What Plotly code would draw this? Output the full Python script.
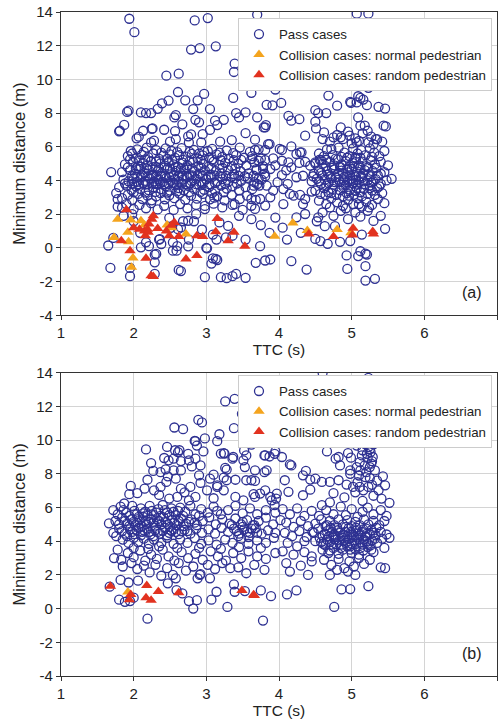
import plotly.graph_objects as go
from plotly.subplots import make_subplots

# ---------------- DATA ----------------
# Panel (a): pass cases (TTC [s], minimum distance [m])
pass_a = [
 (1.94,13.6),(2.01,12.8),(2.84,13.5),(3.02,13.64),(2.79,11.77),(2.91,11.86),(3.13,11.96),(2.45,10.22),(2.62,10.34),
 (2.61,9.25),(2.97,9.14),(2.88,8.76),(2.71,8.76),(2.48,8.74),(2.39,8.58),(2.33,8.25),(3.39,10.93),(3.38,10.44),
 (3.52,10.0),(3.60,10.85),(3.70,13.84),(3.62,13.0),(3.65,10.78),(3.62,9.2),(3.37,8.9),(3.95,9.4),(4.03,8.6),
 (3.91,8.46),(4.61,9.69),(4.68,9.04),(5.07,13.9),(5.23,13.9),(5.13,10.28),(5.39,10.22),(4.99,8.6),(5.09,9.0),
 (5.12,8.9),(5.16,8.8),(5.23,9.5),(4.80,8.44),(5.37,8.37),(5.46,8.27),(3.83,8.49),(3.54,8.04),(3.41,8.0),
 (3.05,8.24),(2.82,8.24),(1.93,8.14),(1.91,8.07),(2.10,8.04),(2.17,8.0),(2.24,8.0),(4.50,8.17),(4.54,8.0),
 (4.65,8.0),(5.07,8.63),(5.21,8.47),(4.98,8.67),
 (1.87,7.3),(1.81,6.95),(2.13,6.95),(2.26,7.09),(2.42,7.01),(2.57,6.93),(2.79,6.74),(2.75,6.62),(2.58,7.88),
 (2.56,7.74),(2.67,7.33),(2.85,7.6),(2.90,7.45),(3.12,7.55),(3.24,7.6),(3.15,7.29),(3.45,7.74),(3.70,7.74),
 (3.81,7.15),(3.54,6.81),(3.35,6.4),(3.67,6.42),(3.19,6.3),(2.76,6.26),(2.93,6.26),(2.04,6.5),(2.07,6.6),
 (2.24,6.26),(2.28,6.36),(2.50,6.3),(2.58,6.46),(1.80,6.92),(2.25,7.06),(4.13,7.84),(4.17,7.55),(4.28,7.64),
 (3.79,7.15),(3.82,7.29),(4.50,7.49),(4.51,7.09),(4.85,7.15),(5.09,7.74),(5.12,7.25),(5.18,7.25),(5.44,7.25),
 (5.47,7.21),(4.36,6.66),(4.60,6.46),(4.75,6.56),(4.85,6.56),(4.97,6.66),(5.07,6.26),(5.23,6.26),(5.33,6.46),
 (3.85,6.16),(4.01,5.87),(4.17,6.02),(4.31,5.67),(4.24,5.57),(4.72,5.87),(2.95,6.75),(3.05,7.0),
 (2.05,5.85),(2.18,5.95),(2.31,5.8),(2.44,5.9),(2.52,5.75),(2.66,5.92),(2.83,5.82),(2.97,5.7),(3.08,5.88),
 (3.28,5.78),(3.46,5.95),(3.60,5.7),(3.72,5.85),(1.98,5.6),
 (1.92,5.45),(2.03,5.3),(2.11,5.52),(2.20,5.38),(2.27,5.6),(2.35,5.28),(2.41,5.47),(2.50,5.55),(2.57,5.34),
 (2.63,5.5),(2.72,5.41),(2.80,5.58),(2.88,5.3),(2.95,5.49),(3.04,5.36),(3.14,5.55),(3.22,5.4),(3.31,5.3),
 (3.41,5.5),(3.52,5.35),(3.63,5.45),(3.75,5.3),
 (1.88,4.95),(1.99,5.1),(2.06,4.85),(2.13,5.05),(2.19,4.9),(2.24,5.15),(2.30,4.82),(2.37,5.02),(2.43,4.88),
 (2.48,5.12),(2.55,4.95),(2.61,4.8),(2.67,5.06),(2.74,4.9),(2.82,5.1),(2.89,4.85),(2.96,5.0),(3.03,4.82),
 (3.10,5.12),(3.18,4.92),(3.26,5.05),(3.35,4.85),(3.44,5.0),(3.55,4.9),(3.66,5.08),(3.78,4.85),
 (1.84,4.5),(1.95,4.62),(2.02,4.4),(2.08,4.68),(2.15,4.45),(2.21,4.6),(2.27,4.35),(2.33,4.55),(2.39,4.42),
 (2.46,4.66),(2.52,4.38),(2.58,4.57),(2.64,4.45),(2.70,4.65),(2.77,4.32),(2.84,4.52),(2.91,4.4),(2.98,4.6),
 (3.06,4.35),(3.13,4.55),(3.21,4.42),(3.30,4.62),(3.38,4.38),(3.47,4.55),(3.58,4.42),(3.69,4.6),(3.80,4.4),
 (1.86,4.05),(1.93,3.95),(2.00,4.1),(2.05,3.92),(2.10,4.18),(2.16,3.98),(2.22,4.12),(2.28,3.94),(2.34,4.08),
 (2.40,3.9),(2.45,4.15),(2.51,3.98),(2.57,4.1),(2.62,3.92),(2.68,4.05),(2.74,4.2),(2.80,3.96),(2.86,4.1),
 (2.93,3.92),(3.00,4.06),(3.07,4.18),(3.15,3.95),(3.22,4.08),(3.30,3.92),(3.39,4.12),(3.48,3.98),(3.57,4.15),
 (3.66,3.9),(3.76,4.05),
 (1.80,3.6),(1.90,3.7),(1.97,3.45),(2.03,3.65),(2.09,3.5),(2.15,3.75),(2.21,3.42),(2.27,3.6),(2.33,3.78),
 (2.38,3.48),(2.44,3.65),(2.50,3.4),(2.56,3.72),(2.62,3.55),(2.69,3.42),(2.75,3.68),(2.83,3.5),(2.90,3.75),
 (2.97,3.45),(3.04,3.62),(3.12,3.4),(3.20,3.7),(3.28,3.52),(3.36,3.65),(3.45,3.42),(3.54,3.6),(3.63,3.48),
 (3.73,3.7),
 (1.76,3.25),(1.84,2.95),(1.92,3.15),(1.98,2.85),(2.06,3.2),(2.12,2.9),(2.19,3.1),(2.25,2.82),(2.31,3.05),
 (2.37,3.25),(2.43,2.88),(2.49,3.12),(2.56,2.95),(2.63,3.22),(2.71,2.85),(2.79,3.1),(2.87,2.92),(2.95,3.2),
 (3.05,2.88),(3.15,3.05),(3.25,2.82),(3.35,3.15),(3.46,2.9),(3.56,3.1),(3.68,2.85),
 (1.78,2.45),(1.90,2.6),(2.00,2.3),(2.08,2.55),(2.17,2.35),(2.24,2.65),(2.33,2.28),(2.42,2.5),(2.55,2.25),
 (2.64,2.6),(2.74,2.35),(2.86,2.55),(2.98,2.3),(3.10,2.62),(3.22,2.4),(3.36,2.55),(3.50,2.25),(3.62,2.5),
 (1.96,5.75),(2.14,5.7),(2.38,5.65),(2.60,5.68),(2.77,5.7),(2.90,5.6),(3.02,5.75),(3.18,5.65),(3.37,5.62),
 (1.95,5.25),(2.08,5.18),(2.16,5.25),(2.31,5.12),(2.46,5.28),(2.53,5.2),(2.68,5.22),(2.77,5.15),(2.92,5.22),
 (3.08,5.25),(3.20,5.2),(3.38,5.2),(3.48,5.22),
 (1.92,4.78),(2.03,4.72),(2.10,4.82),(2.18,4.72),(2.26,4.78),(2.35,4.72),(2.42,4.76),(2.50,4.72),(2.58,4.78),
 (2.65,4.72),(2.73,4.78),(2.80,4.72),(2.93,4.76),(3.07,4.72),(3.22,4.75),(3.40,4.72),
 (1.98,4.25),(2.05,4.22),(2.12,4.3),(2.19,4.25),(2.25,4.28),(2.31,4.22),(2.37,4.28),(2.43,4.25),(2.49,4.22),
 (2.55,4.3),(2.61,4.25),(2.67,4.28),(2.73,4.22),(2.81,4.3),(2.88,4.25),(2.95,4.28),(3.03,4.22),(3.11,4.3),
 (3.19,4.25),(3.27,4.28),(3.35,4.22),(3.44,4.28),(3.53,4.25),
 (1.88,3.82),(1.98,3.8),(2.07,3.78),(2.13,3.85),(2.19,3.78),(2.25,3.82),(2.31,3.78),(2.37,3.85),(2.42,3.78),
 (2.48,3.82),(2.54,3.85),(2.59,3.78),(2.66,3.82),(2.72,3.78),(2.78,3.85),(2.86,3.78),(2.95,3.82),(3.04,3.78),
 (3.12,3.85),(3.26,3.8),(3.42,3.82),
 (2.00,3.3),(2.16,3.28),(2.30,3.32),(2.46,3.28),(2.60,3.35),(2.76,3.3),(2.92,3.32),(3.08,3.25),(3.24,3.3),
 (3.67,5.81),(3.81,5.81),(3.87,6.16),(4.04,5.81),(4.29,5.67),(3.62,5.27),(3.72,5.17),(3.81,5.21),(3.92,5.31),
 (4.04,5.17),(4.13,5.08),(4.17,4.78),(4.28,5.04),(4.36,5.11),(4.43,4.88),(4.50,5.08),(4.56,5.23),(4.65,5.23),
 (3.69,4.68),(3.78,4.68),(3.88,4.68),(3.65,4.28),(3.72,4.09),(3.81,4.25),(4.04,4.32),(4.24,4.19),(4.33,4.28),
 (4.47,4.25),(3.65,3.69),(3.70,3.79),(3.83,3.69),(3.92,3.40),(4.06,3.49),(4.20,3.1),(4.15,3.2),(4.29,3.14),
 (4.36,2.9),(4.33,2.6),(4.45,3.34),(3.62,2.9),(3.74,2.9),(3.81,2.51),(3.88,3.0),(3.67,2.31),(4.06,2.6),
 (4.24,1.81),(4.36,2.01),(4.54,1.81),(3.95,4.9),(4.10,4.6),(3.98,3.9),(4.12,3.8),
 (4.62,6.85),(4.80,6.7),(4.95,6.9),(5.05,6.5),(5.15,6.8),(5.27,6.6),(5.35,6.45),(5.22,6.95),(4.70,6.3),
 (4.88,6.45),(5.00,6.2),(5.10,6.35),(5.30,6.15),(5.42,6.3),
 (4.55,5.6),(4.66,5.85),(4.74,5.5),(4.82,5.95),(4.90,5.65),(4.97,5.45),(5.02,5.9),(5.08,5.6),(5.13,5.8),
 (5.19,5.5),(5.25,5.9),(5.31,5.65),(5.38,5.45),(5.45,5.75),(4.86,5.4),(5.05,5.35),
 (4.50,5.0),(4.58,5.2),(4.64,4.85),(4.70,5.1),(4.76,4.9),(4.81,5.25),(4.86,4.95),(4.92,5.15),(4.97,4.82),
 (5.01,5.05),(5.06,5.28),(5.10,4.9),(5.15,5.12),(5.20,4.85),(5.26,5.2),(5.32,4.95),(5.40,5.1),(5.50,4.9),
 (4.48,4.4),(4.55,4.6),(4.60,4.3),(4.66,4.55),(4.71,4.25),(4.76,4.65),(4.81,4.4),(4.86,4.58),(4.90,4.22),
 (4.95,4.48),(5.00,4.68),(5.04,4.3),(5.08,4.52),(5.13,4.25),(5.18,4.62),(5.23,4.38),(5.29,4.55),(5.36,4.3),
 (5.45,4.5),
 (4.45,3.95),(4.52,4.1),(4.58,3.8),(4.63,4.05),(4.68,3.85),(4.72,4.12),(4.77,3.9),(4.82,4.05),(4.86,3.75),
 (4.90,4.0),(4.94,3.88),(4.98,4.1),(5.02,3.82),(5.06,4.02),(5.10,3.92),(5.14,4.15),(5.18,3.78),(5.22,4.0),
 (5.27,3.88),(5.33,4.08),(5.40,3.8),(5.48,4.0),(5.55,4.1),
 (4.50,3.4),(4.57,3.2),(4.62,3.55),(4.68,3.3),(4.74,3.5),(4.79,3.15),(4.84,3.42),(4.89,3.6),(4.93,3.25),
 (4.98,3.45),(5.03,3.15),(5.07,3.55),(5.12,3.3),(5.17,3.5),(5.22,3.2),(5.28,3.4),(5.35,3.55),(5.42,3.25),
 (4.55,2.8),(4.65,2.6),(4.72,2.95),(4.80,2.7),(4.88,2.5),(4.95,2.85),(5.02,2.6),(5.08,2.95),(5.14,2.45),
 (5.20,2.75),(5.28,2.55),(5.36,2.9),(5.45,2.65),
 (4.60,2.1),(4.75,1.9),(4.85,2.2),(4.95,1.7),(5.05,2.1),(5.12,1.85),(5.22,2.2),(5.30,1.6),(4.52,1.58),
 (4.77,1.29),(4.63,1.29),(5.40,1.9),
 (4.62,5.45),(4.78,5.3),(4.94,5.35),(5.12,5.35),(5.28,5.4),
 (4.60,4.98),(4.73,4.75),(4.84,4.8),(4.94,4.7),(5.03,4.85),(5.12,4.75),(5.22,4.78),(5.34,4.75),
 (4.58,4.45),(4.68,4.38),(4.78,4.2),(4.88,4.4),(4.98,4.3),(5.06,4.2),(5.16,4.4),(5.26,4.25),(5.40,4.4),
 (4.55,3.95),(4.65,3.7),(4.75,3.75),(4.84,3.9),(4.92,3.72),(5.00,3.98),(5.08,3.75),(5.16,3.95),(5.25,3.7),
 (5.30,3.95),(5.38,3.65),
 (4.64,3.15),(4.72,3.25),(4.88,3.05),(4.96,3.1),(5.05,3.38),(5.14,3.05),(5.25,3.55),(5.32,3.15),
 (4.70,2.4),(4.92,2.35),(5.10,2.6),(5.24,2.4),
 (1.69,4.5),(1.78,2.89),(1.84,2.39),(1.68,-1.19),(1.65,0.14),(1.72,0.59),(1.95,-1.68),(1.95,-1.19),
 (2.17,0.33),(2.10,0.03),(2.36,0.52),(2.38,0.23),(2.31,-0.36),(2.29,-0.86),(2.62,-1.31),(2.54,-0.17),
 (2.59,-0.17),(2.75,0.09),(3.01,-0.03),(3.09,-0.62),(3.15,-0.72),(2.98,-1.74),(3.20,-1.74),(3.28,-1.80),
 (3.36,-1.68),(3.41,-1.55),(3.27,0.62),(3.36,0.72),(3.39,2.59),(2.98,2.49),(3.11,2.98),(3.18,1.51),
 (2.86,2.0),(2.75,1.61),(2.65,1.21),(2.61,1.11),(2.00,1.58),(2.09,0.89),(2.21,0.1),(2.29,-0.4),(2.35,0.49),
 (2.49,1.78),(2.51,1.19),(2.54,0.33),(2.60,0.1),(2.68,1.58),(2.76,0.49),(2.83,1.58),(2.94,1.09),(3.00,0.0),
 (3.09,0.79),(3.14,0.49),(3.54,0.49),(3.13,-0.65),(3.07,-0.93),(2.65,-1.38),(2.29,-1.54),(3.54,-1.78),
 (3.68,-0.89),(3.81,-0.75),(3.88,-0.69),(3.74,0.1),(3.87,0.89),(4.11,0.49),(4.17,-0.79),(4.38,-1.29),
 (4.30,0.89),(4.50,0.53),(4.57,0.4),(4.67,0.24),(4.84,0.36),(4.93,-0.45),(4.94,-1.25),(5.09,-0.49),
 (5.12,-0.2),(5.19,-0.34),(5.21,-0.4),(5.19,-1.09),(5.19,-1.94),(5.32,-1.84),(5.46,1.13),(5.14,0.79),
 (4.98,0.4),(3.62,1.7),(3.75,1.35),(3.95,1.8),(4.05,1.2),(3.45,1.9),(3.30,1.3),(1.86,1.9),(1.98,2.0),
]
normal_a = [(1.78,1.70),(1.96,1.65),(2.10,1.61),(1.73,0.62),(1.92,0.92),(1.93,0.37),(1.99,-0.6),(1.97,-1.15),
            (2.15,1.35),(2.46,1.35),(2.52,1.2),(2.72,0.82),(4.19,1.48),(3.94,0.69),(4.39,1.03),(4.80,1.09),(4.99,0.9)]
random_a = [(1.90,2.26),(1.83,0.42),(1.95,-0.17),(2.17,-0.62),(2.24,-1.66),(2.27,-1.70),(2.25,1.70),(2.27,1.9),
            (2.21,1.41),(2.08,1.11),(2.15,1.0),(2.19,1.1),(2.16,0.72),(2.20,0.92),(2.33,1.15),(2.45,1.0),(2.49,0.72),
            (2.56,1.5),(2.52,1.34),(2.62,0.68),(2.72,-0.66),(2.87,-0.46),(2.87,0.72),(2.95,0.68),(3.15,1.74),
            (3.13,0.96),(3.30,0.42),(3.38,0.92),(2.00,1.2),(3.53,0.1),(4.41,0.83),(4.75,0.67),(5.01,0.77),
            (5.02,1.17),(5.29,0.97),(5.30,0.83)]

# Panel (b): pass cases
pass_b = [
 (3.26,12.3),(3.39,12.45),(3.53,12.42),(3.50,11.55),(2.89,11.2),(2.94,11.05),(2.56,10.75),(2.68,10.65),
 (2.98,10.1),(2.84,9.95),(2.17,9.45),(2.46,9.6),(2.57,9.4),(2.63,9.4),(3.18,10.35),(3.20,9.2),(3.25,9.2),
 (3.37,9.0),(3.15,9.94),(3.38,10.71),(3.49,11.56),(4.60,14.0),(5.23,13.7),(3.97,12.26),(4.15,12.2),(4.17,12.0),
 (4.46,11.83),(4.86,10.35),(5.00,10.45),(5.05,10.4),(5.21,10.4),(5.37,10.7),(5.46,10.75),(5.16,9.9),(5.25,9.46),
 (2.85,9.94),(2.87,9.68),(2.96,9.33),(2.61,9.29),(2.75,9.19),(3.24,9.23),(3.52,9.39),(3.62,9.73),(3.80,9.09),
 (3.87,9.03),(3.95,9.33),(3.55,9.09),(3.36,8.9),(3.51,8.8),(3.53,8.4),(3.26,8.35),(3.28,8.25),
 (5.07,9.68),(5.18,9.78),(5.23,9.59),(5.26,9.29),(5.21,9.19),(5.14,9.09),(5.29,9.0),(5.11,8.7),(5.18,8.5),
 (5.25,8.4),(5.32,8.2),(5.07,8.4),(4.98,8.2),(4.95,9.23),(4.99,8.96),(4.82,9.0),(4.78,8.9),(4.66,9.33),
 (4.84,8.5),(5.43,7.85),(5.46,7.32),(5.37,7.02),(5.41,6.53),(5.52,6.28),(5.23,7.22),(5.11,7.22),(5.16,7.02),
 (4.98,8.0),(4.93,7.36),(5.02,7.22),(4.82,7.62),(4.70,7.52),(4.59,7.52),(4.50,7.71),(4.43,7.66),(4.33,7.91),
 (4.37,8.17),(4.17,8.5),(4.15,8.56),(4.08,7.62),(4.13,6.93),(4.43,7.06),(4.33,6.73),(4.59,6.14),(3.94,9.19),
 (4.04,9.0),(3.81,9.09),(3.83,8.21),(3.67,8.21),(3.62,7.62),(3.81,7.02),(3.67,6.63),(3.88,6.63),(3.97,6.83),
 (3.94,6.14),(5.30,9.75),(5.28,8.75),(5.20,8.1),(5.35,7.6),(5.10,7.9),(5.25,7.75),(5.05,6.9),(5.30,6.7),
 (4.90,6.6),(4.75,6.85),(5.15,6.4),(4.70,6.3),
 (5.15,9.4),(5.22,8.95),(5.27,8.6),(5.12,8.2),(5.19,7.8),(5.28,7.35),(5.08,7.5),
 (2.24,8.64),(2.42,8.94),(2.48,8.8),(2.55,8.9),(2.65,8.76),(2.76,8.8),(2.85,8.9),(2.92,8.5),(2.80,8.44),
 (2.65,8.2),(2.55,8.2),(2.44,8.27),(2.37,8.1),(2.27,8.17),(2.47,7.85),(2.58,7.71),(2.90,7.91),(3.10,7.95),
 (3.24,7.77),(2.45,7.52),(1.96,7.28),(2.19,7.65),(2.37,7.22),(2.65,7.12),(2.78,7.22),(2.92,7.46),(3.05,7.71),
 (3.15,7.32),(3.28,7.62),(3.40,7.65),(3.55,7.62),(3.67,7.58),(3.80,8.1),
 (1.87,6.24),(1.94,6.79),(2.15,7.12),(2.28,7.02),(2.49,6.53),(2.60,6.63),(2.76,6.43),(2.85,6.63),(3.01,7.02),
 (3.15,7.22),(3.24,7.02),(3.40,6.63),(3.51,6.43),(3.65,6.79),(3.74,6.83),(3.90,6.43),(3.96,6.53),(2.05,6.85),
 (2.35,6.75),(3.10,6.55),(2.70,6.9),
 (1.72,5.85),(1.82,6.05),(1.90,5.7),(1.98,6.1),(2.04,5.6),(2.10,5.95),(2.16,5.75),(2.22,6.1),(2.28,5.55),
 (2.34,5.9),(2.40,6.15),(2.46,5.7),(2.52,5.95),(2.58,5.55),(2.64,6.0),(2.71,5.75),(2.78,6.1),(2.85,5.6),
 (2.93,5.9),(3.02,5.7),(3.10,6.05),(3.20,5.6),(3.30,5.85),(3.40,6.1),(3.50,5.65),(3.60,5.95),(3.70,5.6),
 (3.82,5.85),(3.95,5.7),
 (1.66,5.06),(1.75,5.2),(1.84,5.4),(1.91,5.05),(1.97,5.3),(2.02,4.95),(2.08,5.25),(2.13,5.45),(2.18,5.0),
 (2.24,5.3),(2.29,4.92),(2.35,5.2),(2.41,5.42),(2.47,5.0),(2.53,5.28),(2.59,4.95),(2.65,5.35),(2.72,5.05),
 (2.79,5.3),(2.87,4.95),(2.95,5.2),(3.04,5.42),(3.13,5.0),(3.22,5.3),(3.32,5.05),(3.40,5.35),(3.48,5.0),
 (3.56,5.25),(3.64,4.95),(3.72,5.2),(3.82,5.4),(3.92,5.0),(4.02,5.25),
 (1.72,4.5),(1.80,4.75),(1.88,4.45),(1.95,4.7),(2.01,4.42),(2.07,4.8),(2.12,4.55),(2.18,4.75),(2.23,4.4),
 (2.30,4.65),(2.36,4.45),(2.43,4.8),(2.49,4.5),(2.55,4.7),(2.62,4.42),(2.70,4.68),(2.78,4.45),(2.86,4.75),
 (2.94,4.5),(3.03,4.7),(3.12,4.45),(3.21,4.8),(3.30,4.55),(3.38,4.75),(3.45,4.45),(3.52,4.7),(3.60,4.5),
 (3.68,4.78),(3.76,4.45),(3.85,4.65),(3.95,4.5),
 (1.85,4.1),(1.93,3.9),(2.00,4.2),(2.06,3.95),(2.14,4.15),(2.21,3.85),(2.28,4.1),(2.38,3.9),(2.46,4.2),
 (2.55,3.85),(2.64,4.1),(2.74,3.9),(2.84,4.18),(2.93,3.85),(3.03,4.05),(3.14,3.8),(3.26,4.1),(3.36,3.9),
 (3.48,4.15),(3.58,3.85),(3.70,4.05),(3.82,3.9),(3.93,4.2),
 (1.78,3.5),(1.83,2.9),(1.92,3.3),(2.00,3.05),(2.09,3.45),(2.16,2.85),(2.24,3.2),(2.32,2.95),(2.40,3.5),
 (2.48,3.1),(2.56,2.85),(2.66,3.35),(2.75,3.0),(2.85,3.25),(2.95,2.9),(3.06,3.4),(3.16,3.1),(3.27,2.85),
 (3.37,3.3),(3.48,3.0),(3.58,3.4),(3.70,3.1),(3.82,2.95),(3.95,3.3),
 (1.73,3.0),(1.85,2.5),(1.97,2.7),(2.05,2.35),(2.14,2.55),(2.22,2.15),(2.30,2.6),(2.38,1.95),(2.46,2.4),
 (2.54,2.0),(2.62,2.7),(2.72,2.25),(2.82,2.5),(2.92,2.05),(3.02,2.6),(3.12,2.35),(3.22,2.7),(3.33,2.4),
 (3.44,2.45),(3.55,2.1),(3.66,2.6),(3.80,2.3),(2.58,1.8),(2.88,1.8),(2.91,2.0),(3.05,1.8),
 (1.78,5.6),(1.86,5.85),(1.94,5.5),(2.01,5.8),(2.07,5.45),(2.13,5.65),(2.19,5.5),(2.25,5.8),(2.31,5.7),
 (2.37,5.5),(2.43,5.85),(2.49,5.55),(2.55,5.75),(2.61,5.8),(2.68,5.5),(2.90,5.5),(3.15,5.8),
 (1.80,5.0),(1.88,5.2),(1.94,4.9),(2.00,5.15),(2.05,5.1),(2.11,4.9),(2.16,5.2),(2.21,5.15),(2.27,5.1),
 (2.32,5.3),(2.38,5.0),(2.44,5.15),(2.50,4.85),(2.56,5.1),(2.62,5.2),(2.69,4.9),(2.76,5.15),(2.84,5.1),
 (1.76,4.3),(1.84,4.6),(1.91,4.3),(1.98,4.55),(2.04,4.65),(2.10,4.35),(2.15,4.62),(2.21,4.55),(2.27,4.3),
 (2.33,4.55),(2.40,4.62),(2.46,4.35),(2.52,4.62),(2.58,4.55),(2.66,4.58),(2.74,4.6),
 (3.35,4.95),(3.42,4.6),(3.50,4.85),(3.56,4.55),(3.62,4.75),(3.70,4.5),(3.44,4.3),(3.58,4.25),(3.66,4.95),
 (3.50,5.15),(2.00,3.6),(2.20,3.55),(2.35,3.7),(2.60,3.6),(2.90,3.6),(3.20,3.55),(3.45,3.65),(3.75,3.6),
 (2.19,-0.6),(2.82,0.0),(2.76,0.45),(2.87,0.5),(3.29,0.1),(3.07,0.53),(3.14,1.0),(1.80,0.53),(1.88,0.4),
 (1.82,1.7),(2.06,1.66),(1.93,1.55),(2.00,0.65),(2.67,0.9),(2.59,1.1),(3.38,1.44),(3.39,1.0),(3.53,1.04),
 (3.78,-0.71),(4.76,0.1),(3.89,0.74),(4.11,0.84),(4.24,1.08),(3.75,1.08),(4.86,1.14),(4.98,1.16),(5.23,1.33),
 (1.95,0.45),(1.67,1.3),(2.47,1.5),
 (4.05,5.9),(4.15,5.6),(4.25,5.95),(4.35,5.5),(4.45,5.8),(4.10,5.1),(4.20,4.85),(4.30,5.2),(4.40,4.9),
 (4.08,4.5),(4.18,4.3),(4.28,4.6),(4.38,4.25),(4.46,4.55),(4.12,3.9),(4.25,3.7),(4.35,4.0),(4.05,3.4),
 (4.20,3.2),(4.35,3.35),(4.45,3.1),(4.10,2.7),(4.30,2.55),(4.45,2.8),(4.15,2.2),(4.40,2.0),
 (4.55,5.5),(4.65,5.85),(4.75,5.6),(4.85,6.05),(4.92,5.55),(5.00,5.9),(5.08,5.45),(5.15,5.75),(5.22,6.0),
 (5.30,5.6),(5.40,5.85),(5.48,5.5),
 (4.50,5.05),(4.58,5.3),(4.64,4.9),(4.70,5.2),(4.76,4.95),(4.82,5.3),(4.88,5.0),(4.94,5.25),(5.00,4.9),
 (5.05,5.15),(5.11,4.95),(5.17,5.3),(5.23,5.0),(5.30,5.2),(5.38,4.95),(5.45,5.2),
 (4.48,4.5),(4.54,4.75),(4.60,4.35),(4.66,4.6),(4.71,4.8),(4.76,4.4),(4.81,4.65),(4.86,4.3),(4.91,4.55),
 (4.96,4.78),(5.01,4.4),(5.06,4.62),(5.11,4.35),(5.16,4.7),(5.21,4.45),(5.27,4.65),(5.33,4.35),(5.40,4.55),
 (5.48,4.4),
 (4.50,4.0),(4.56,4.2),(4.61,3.85),(4.66,4.1),(4.70,3.95),(4.75,4.22),(4.79,3.82),(4.83,4.05),(4.88,4.2),
 (4.92,3.9),(4.96,4.12),(5.00,3.85),(5.04,4.05),(5.08,4.22),(5.12,3.92),(5.17,4.1),(5.22,3.85),(5.28,4.05),
 (5.35,3.9),(5.42,4.15),(5.52,4.2),
 (4.60,3.5),(4.68,3.3),(4.75,3.6),(4.82,3.25),(4.88,3.5),(4.94,3.7),(5.00,3.3),(5.05,3.55),(5.10,3.2),
 (5.16,3.45),(5.22,3.65),(5.30,3.35),(5.45,3.6),
 (4.62,2.9),(4.72,2.6),(4.82,2.95),(4.90,2.4),(4.97,2.8),(5.03,2.5),(5.10,3.0),(5.17,2.65),(5.25,2.9),
 (5.40,2.45),(5.46,2.4),(4.80,2.3),(4.95,2.2),(5.05,2.0),(4.70,2.0),
 (4.63,4.45),(4.69,4.3),(4.73,4.55),(4.78,4.25),(4.84,4.5),(4.89,4.38),(4.94,4.3),(4.99,4.55),(5.03,4.25),
 (5.09,4.45),(5.14,4.55),(5.19,4.3),(5.25,4.4),(5.30,4.5),
 (4.58,3.95),(4.64,3.75),(4.72,3.8),(4.77,4.1),(4.86,3.8),(4.90,4.05),(4.98,3.7),(5.06,3.85),(5.10,4.1),
 (5.15,3.8),(5.20,4.0),(5.26,3.75),(5.32,4.15),
 (4.66,4.95),(4.80,4.8),(4.92,4.85),(5.06,4.8),(5.20,4.75),(5.34,4.8),
 (4.70,3.45),(4.85,3.6),(4.98,3.5),(5.12,3.6),(5.27,3.5),
]
normal_b = [(1.92,0.98)]
random_b = [(1.68,1.33),(1.96,0.84),(1.94,0.53),(2.18,1.37),(2.17,0.65),(2.24,0.49),(2.34,1.02),(2.62,0.94),
            (3.49,1.08),(3.65,0.82),(3.66,0.78)]

x_ticks = [1, 2, 3, 4, 5, 6, 7]
y_ticks = [-4, -2, 0, 2, 4, 6, 8, 10, 12, 14]
panel_labels = ["(a)", "(b)"]
series_names = ["Pass cases", "Collision cases: normal pedestrian", "Collision cases: random pedestrian"]

# ---------------- STYLE ----------------
NAVY = "#2E3192"
ORANGE = "#F4A41E"
RED = "#E2321F"
FONT = "Liberation Sans, Arial, sans-serif"
TXT = "#222222"

fig = make_subplots(rows=2, cols=1, vertical_spacing=0.0866)

panels = [(pass_a, normal_a, random_a, "legend"), (pass_b, normal_b, random_b, "legend2")]
for i, (ps, nm, rd, lg) in enumerate(panels, start=1):
    fig.add_trace(go.Scatter(
        x=[p[0] for p in ps], y=[p[1] for p in ps], mode="markers", name=series_names[0],
        marker=dict(symbol="circle-open", size=9, color=NAVY, line=dict(width=1.3, color=NAVY)),
        legend=lg), row=i, col=1)
    fig.add_trace(go.Scatter(
        x=[p[0] for p in nm], y=[p[1] for p in nm], mode="markers", name=series_names[1],
        marker=dict(symbol="triangle-up", size=10, color=ORANGE, line=dict(width=0)),
        legend=lg), row=i, col=1)
    fig.add_trace(go.Scatter(
        x=[p[0] for p in rd], y=[p[1] for p in rd], mode="markers", name=series_names[2],
        marker=dict(symbol="triangle-up", size=10, color=RED, line=dict(width=0)),
        legend=lg), row=i, col=1)

axis_common = dict(
    showgrid=True, gridcolor="#d4d4d4", gridwidth=1, zeroline=False,
    showline=True, linecolor="#333333", linewidth=1.3, mirror=True,
    ticks="outside", ticklen=4, tickcolor="#333333", tickwidth=1.2,
    tickfont=dict(family=FONT, size=15, color=TXT),
)
for i in (1, 2):
    fig.update_xaxes(range=[1, 7], tickvals=x_ticks, ticktext=[str(v) for v in x_ticks],
                     title=dict(text="TTC (s)", font=dict(family=FONT, size=15.5, color=TXT), standoff=0),
                     row=i, col=1, **axis_common)
    fig.update_yaxes(range=[-4, 14], tickvals=y_ticks, ticktext=[str(v) for v in y_ticks],
                     title=dict(text="Minimum distance (m)", font=dict(family=FONT, size=16.5, color=TXT), standoff=6),
                     row=i, col=1, **axis_common)

leg_common = dict(x=0.9885, xanchor="right", yanchor="top", bgcolor="white",
                  bordercolor="#cccccc", borderwidth=1, font=dict(family=FONT, size=13.3, color=TXT),
                  itemwidth=30, tracegroupgap=0)
fig.update_layout(
    width=501, height=720,
    margin=dict(l=61, r=4, t=12, b=44),
    plot_bgcolor="white", paper_bgcolor="white",
    font=dict(family=FONT, size=13, color=TXT),
    legend=dict(y=0.991, **leg_common),
    legend2=dict(y=0.4535, **leg_common),
    showlegend=True,
)

for i, lab in enumerate(panel_labels, start=1):
    xr = "x" if i == 1 else "x2"
    yr = "y" if i == 1 else "y2"
    fig.add_annotation(x=6.66, y=-2.65, xref=xr, yref=yr, text=lab, showarrow=False,
                       font=dict(family=FONT, size=16, color=TXT))

fig.write_html("out.html")
